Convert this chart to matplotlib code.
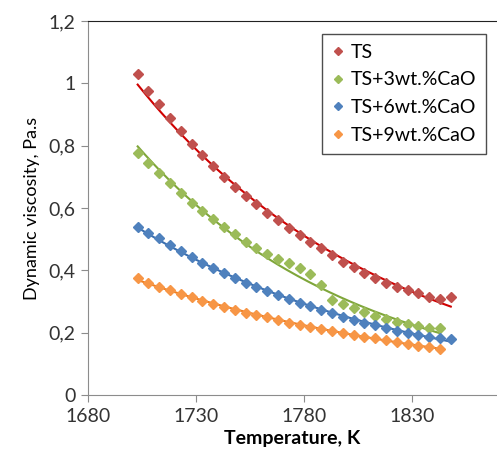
import numpy as np
import matplotlib
matplotlib.use("Agg")
import matplotlib.pyplot as plt
from matplotlib.ticker import FuncFormatter

plt.rcParams['font.family'] = ['Lato', 'DejaVu Sans']

# temperatures, K
t_ts = np.arange(1703, 1849, 5)      # 30 points
t_3 = np.arange(1703, 1844, 5)       # 29 points
t_6 = np.arange(1703, 1849, 5)       # 30 points
t_9 = np.arange(1703, 1844, 5)       # 29 points

visc_ts = [1.030, 0.976, 0.933, 0.888, 0.848, 0.804, 0.770, 0.735, 0.700, 0.668,
           0.638, 0.612, 0.585, 0.561, 0.535, 0.513, 0.492, 0.471, 0.449, 0.428,
           0.410, 0.390, 0.374, 0.358, 0.348, 0.337, 0.326, 0.315, 0.307, 0.313]
visc_3 = [0.778, 0.743, 0.711, 0.681, 0.649, 0.617, 0.591, 0.564, 0.540, 0.517,
          0.492, 0.471, 0.452, 0.436, 0.422, 0.406, 0.388, 0.352, 0.305, 0.292,
          0.278, 0.267, 0.253, 0.243, 0.235, 0.228, 0.221, 0.214, 0.214]
visc_6 = [0.540, 0.521, 0.503, 0.481, 0.463, 0.442, 0.425, 0.406, 0.390, 0.374,
          0.360, 0.348, 0.334, 0.321, 0.307, 0.296, 0.286, 0.273, 0.262, 0.251,
          0.241, 0.232, 0.225, 0.216, 0.206, 0.198, 0.192, 0.187, 0.182, 0.179]
visc_9 = [0.374, 0.360, 0.348, 0.337, 0.324, 0.313, 0.303, 0.292, 0.283, 0.273,
          0.264, 0.257, 0.249, 0.241, 0.232, 0.225, 0.219, 0.212, 0.206, 0.200,
          0.192, 0.187, 0.182, 0.176, 0.171, 0.164, 0.158, 0.153, 0.149]

labels = ['TS', 'TS+3wt.%CaO', 'TS+6wt.%CaO', 'TS+9wt.%CaO']
point_colors = ['#C0504D', '#9BBB59', '#4F81BD', '#F79646']
line_colors = ['#D00000', '#7FA63A', '#3A6FB0', '#F07F20']

fig = plt.figure(figsize=(4.97, 4.53), dpi=100)
ax = fig.add_axes([88/497, 58/453, 409/497, 374/453])

series = [(t_ts, visc_ts), (t_3, visc_3), (t_6, visc_6), (t_9, visc_9)]
for (t, v), lab, pc, lc in zip(series, labels, point_colors, line_colors):
    ax.plot(t, v, 'D', ms=5.5, color=pc, label=lab, zorder=3)
    # exponential trendline like excel
    b, a = np.polyfit(t, np.log(v), 1)
    tt = np.linspace(t[0], t[-1], 200)
    ax.plot(tt, np.exp(a + b * tt), '-', color=lc, lw=1.5, zorder=2)

ax.set_xlim(1680, 1869.4)
ax.set_ylim(0, 1.2)
ax.set_xticks([1680, 1730, 1780, 1830])
ax.set_yticks([0, 0.2, 0.4, 0.6, 0.8, 1.0, 1.2])
ax.yaxis.set_major_formatter(FuncFormatter(
    lambda v, p: '0' if v == 0 else ('1' if abs(v - 1) < 1e-9 else ('%g' % round(v, 1)).replace('.', ','))))

ax.spines['right'].set_visible(False)
ax.spines['top'].set_color('#222222')
ax.spines['left'].set_color('#8c8c8c')
ax.spines['bottom'].set_color('#8c8c8c')
ax.tick_params(direction='out', length=5, color='#8c8c8c', labelsize=14,
               labelcolor='#333333', pad=4)

ax.set_xlabel('Temperature, K', fontsize=14, fontweight='bold', labelpad=4)
ax.set_ylabel('Dynamic viscosity, Pa.s', fontsize=13, labelpad=6)

leg = ax.legend(loc='upper right', bbox_to_anchor=(398/409, 1 - 13/374),
                fontsize=14, frameon=True, fancybox=False, handlelength=0.7,
                handletextpad=0.3, borderpad=0.5, labelspacing=0.55, markerscale=0.7,
                borderaxespad=0)
leg.get_frame().set_edgecolor('#222222')
leg.get_frame().set_linewidth(1.0)

fig.savefig('out.png', dpi=100)
